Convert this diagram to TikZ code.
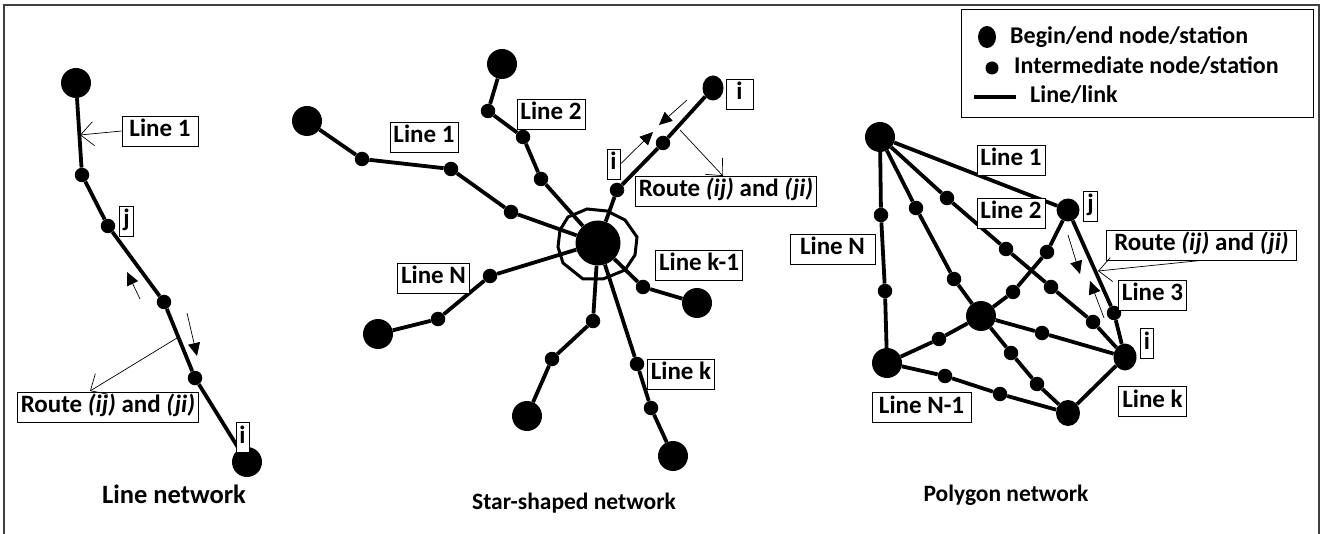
\documentclass[tikz,border=0pt]{standalone}
\usepackage{fontspec}
\setmainfont{Carlito}
\usetikzlibrary{arrows.meta,shapes.geometric}
\begin{document}
\begin{tikzpicture}[x=1pt,y=-1pt,
 big/.style={circle,fill=black,inner sep=0pt,minimum size=30pt},
 sml/.style={circle,fill=black,inner sep=0pt,minimum size=14.5pt},
 lnk/.style={line width=3.8pt},
 lbl/.style={draw,line width=0.8pt,font=\fontsize{25}{28}\selectfont\bfseries,inner xsep=3.5pt,inner ysep=4pt,text height=16.5pt,text depth=5.5pt,fill=white},
 ttl/.style={font=\fontsize{23.5}{26}\selectfont\bfseries},
 lgd/.style={font=\fontsize{24}{26}\selectfont\bfseries,anchor=west,inner sep=0pt},
 barb/.style={line width=0.7pt,-{Straight Barb[length=13pt,width=24pt,line width=0.7pt]}},
 tri/.style={line width=0.7pt,-{Triangle[length=13pt,width=12pt]}},
]
\useasboundingbox (0,0) rectangle (1324,534);
% frame
\draw[line width=1.2pt,black!75] (4,534) -- (4,5) -- (1319,5) -- (1319,534);

% ---------------- Line network
\node[big] (L1) at (76,83) {};
\node[sml] (L2) at (82,175) {};
\node[sml] (L3) at (108,226) {};
\node[sml] (L4) at (164,302) {};
\node[sml] (L5) at (195,378) {};
\node[big] (L6) at (247,462) {};
\draw[lnk] (L1)--(L2)--(L3)--(L4)--(L5)--(L6);
\node[lbl,minimum width=76pt] (la) at (160,131) {Line 1};
\node[lbl] (lj) at (126.5,221) {j};
\node[lbl] (li) at (242.5,437.5) {i};
\node[lbl] (lr) at (108,407) {Route \textit{(ij)} and \textit{(ji)}};
\coordinate (la-t) at (80,135);
\draw[barb] (la.west) -- (la-t);
\coordinate (lr-s) at (177,338);
\coordinate (lr-t) at (90,391);
\draw[barb] (lr-s) -- (lr-t);
\coordinate (la1) at (140,299); \coordinate (la2) at (127,272);
\draw[tri] (la1) -- (la2);
\coordinate (lb1) at (187,313); \coordinate (lb2) at (197,356);
\draw[tri] (lb1) -- (lb2);
\node[ttl,font=\fontsize{26.5}{28}\selectfont\bfseries] (lt) at (174,494) {Line network};

% ---------------- Star network
\node[circle,fill=black,inner sep=0pt,minimum size=45pt] (H) at (598,243) {};
\draw[line width=3pt] (560,230) -- (568,217) -- (587,209) -- (607,211) -- (625,220) -- (637,237) -- (635,255) -- (625,270) -- (603,279) -- (583,279) -- (563,263) -- (558,247) -- cycle;
% spoke 1
\node[big] (A1) at (307,121) {};
\node[sml] (A2) at (362,159) {};
\node[sml] (A3) at (451,169) {};
\node[sml] (A4) at (511,212) {};
\draw[lnk] (A1)--(A2)--(A3)--(A4)--(H);
% spoke 2
\node[big] (B1) at (502,64) {};
\node[sml] (B2) at (488,111) {};
\node[sml] (B3) at (523,137) {};
\node[sml] (B4) at (541,179) {};
\draw[lnk] (B1)--(B2)--(B3)--(B4)--(H);
% spoke upper right
\node[ellipse,fill=black,inner sep=0pt,minimum width=21pt,minimum height=25pt] (C1) at (713,88) {};
\node[sml] (C2) at (663,143) {};
\node[sml] (C3) at (617,190) {};
\draw[lnk] (C1)--(C2)--(C3)--(H);
% spoke right
\node[big] (D1) at (697,303) {};
\node[sml] (D2) at (643,287) {};
\draw[lnk] (D1)--(D2)--(H);
% spoke lower right
\node[big] (E1) at (673,456) {};
\node[sml] (E2) at (651,408) {};
\node[sml] (E3) at (637,364) {};
\draw[lnk] (E1)--(E2)--(E3)--(H);
% spoke down
\node[big] (F1) at (527,416) {};
\node[sml] (F2) at (552,359) {};
\node[sml] (F3) at (593,321) {};
\draw[lnk] (F1)--(F2)--(F3)--(H);
% spoke left
\node[big] (G1) at (378,334) {};
\node[sml] (G2) at (438,319) {};
\node[sml] (G3) at (490,276) {};
\draw[lnk] (G1)--(G2)--(G3)--(H);
% labels
\node[lbl] (sa) at (424,137.5) {Line 1};
\node[lbl] (sb) at (551,114) {Line 2};
\node[lbl,minimum width=27pt] (si1) at (739.5,94) {i};
\node[lbl] (si2) at (613.5,164) {i};
\node[lbl] (sr) at (726,191) {Route \textit{(ij)} and \textit{(ji)}};
\node[lbl] (sk1) at (699,265.5) {Line k-1};
\node[lbl] (sk) at (681,374) {Line k};
\node[lbl] (sn) at (433.5,278) {Line N};
\coordinate (sa1) at (653,132);
\draw[tri] (si2.east) -- (sa1);
\coordinate (sb1) at (687,100); \coordinate (sb2) at (659,125);
\draw[tri] (sb1) -- (sb2);
\coordinate (sr-s) at (680,130); \coordinate (sr-t) at (723,176);
\draw[barb] (sr-s) -- (sr-t);
\node[ttl] (st) at (574,503) {Star-shaped network};

% ---------------- Polygon network
\node[big] (PA) at (880,137) {};
\node[circle,fill=black,inner sep=0pt,minimum size=23pt] (Pj) at (1068,210) {};
\node[big] (PB) at (887,363) {};
\node[big] (PC) at (981,316) {};
\node[ellipse,fill=black,inner sep=0pt,minimum width=23pt,minimum height=27pt] (Pi) at (1125,357) {};
\node[ellipse,fill=black,inner sep=0pt,minimum width=24pt,minimum height=26pt] (PD) at (1068,413) {};
\node[sml] (n1) at (881,215) {};
\node[sml] (n2) at (885,291) {};
\node[sml] (m1) at (916,208) {};
\node[sml] (m2) at (954,279) {};
\node[sml] (q1) at (947,198) {};
\node[sml] (q2) at (1006,249) {};
\node[sml] (q3) at (1051,287) {};
\node[sml] (q4) at (1093,322) {};
\node[sml] (r1) at (1047,252) {};
\node[sml] (r2) at (1013,292) {};
\node[sml] (u1) at (1114,313) {};
\node[sml] (v1) at (1042,333) {};
\node[sml] (w1) at (1011,353) {};
\node[sml] (w2) at (1037,384) {};
\node[sml] (x1) at (939,339) {};
\node[sml] (y1) at (945,376) {};
\node[sml] (y2) at (1000,394) {};
\draw[lnk] (PA)--(Pj);
\draw[lnk] (PA)--(n1)--(n2)--(PB);
\draw[lnk] (PA)--(m1)--(m2)--(PC);
\draw[lnk] (PA)--(q1)--(q2)--(q3)--(q4)--(Pi);
\draw[lnk] (Pj)--(r1)--(r2)--(PC);
\draw[lnk] (Pj)--(u1)--(Pi);
\draw[lnk] (PC)--(v1)--(Pi);
\draw[lnk] (PC)--(w1)--(w2)--(PD);
\draw[lnk] (PB)--(x1)--(PC);
\draw[lnk] (PB)--(y1)--(y2)--(PD);
\draw[lnk] (PD)--(Pi);
\node[lbl] (pa) at (1011,160.5) {Line 1};
\node[lbl] (pb) at (1011,213.5) {Line 2};
\node[lbl] (pj) at (1090.5,206.5) {j};
\node[lbl,minimum width=85pt] (pn) at (832.5,249.5) {Line N};
\node[lbl,minimum width=190pt] (pr) at (1201.5,245) {Route \textit{(ij)} and \textit{(ji)}};
\node[lbl] (p3) at (1152.5,295.5) {Line 3};
\node[lbl] (pi) at (1147,343.5) {i};
\node[lbl] (pk) at (1152.5,401.5) {Line k};
\node[lbl,minimum width=99pt] (pn1) at (921.5,407.5) {Line N-1};
\coordinate (pr-t) at (1098,271);
\draw[barb] (pr.south) -- (pr-t);
\coordinate (pa1) at (1068,235); \coordinate (pa2) at (1080,274);
\draw[tri] (pa1) -- (pa2);
\coordinate (pb1) at (1104,318); \coordinate (pb2) at (1090,281);
\draw[tri] (pb1) -- (pb2);
\node[ttl] (pt) at (1006,495) {Polygon network};

% ---------------- Legend
\node[draw,line width=1pt,minimum width=352pt,minimum height=108pt,inner sep=0pt] (leg) at (1137,64) {};
\node[ellipse,fill=black,inner sep=0pt,minimum width=18pt,minimum height=22pt] (lg1) at (987,37) {};
\node[circle,fill=black,inner sep=0pt,minimum size=13pt] (lg2) at (992,68) {};
\coordinate (lg3a) at (974,97); \coordinate (lg3b) at (1016,97);
\draw[line width=4pt] (lg3a) -- (lg3b);
\node[lgd] (lt1) at (1010,37) {Begin/end node/station};
\node[lgd] (lt2) at (1014,66) {Intermediate node/station};
\node[lgd] (lt3) at (1030,95) {Line/link};
\end{tikzpicture}
\end{document}
